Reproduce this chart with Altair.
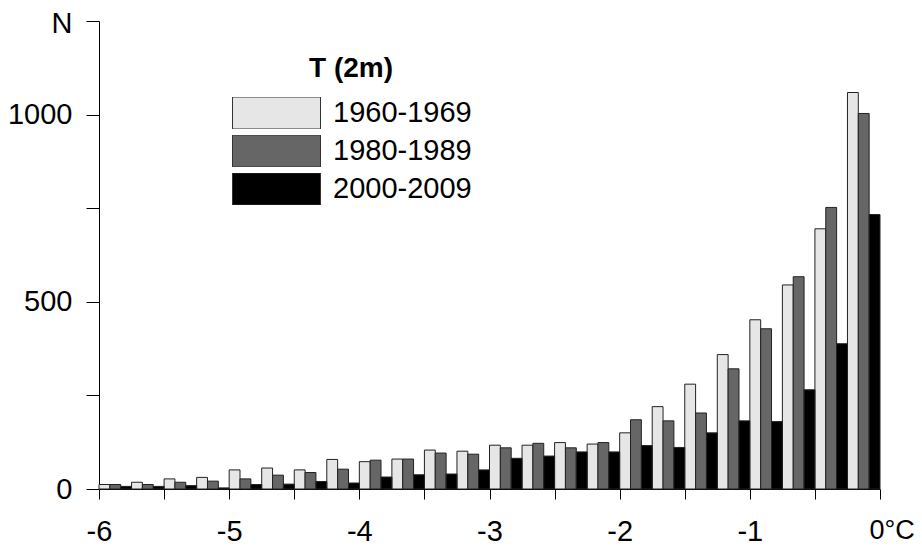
import altair as alt
import pandas as pd

# bin starts (°C), bin width 0.25
bin_starts = [-6.0, -5.75, -5.5, -5.25, -5.0, -4.75, -4.5, -4.25,
              -4.0, -3.75, -3.5, -3.25, -3.0, -2.75, -2.5, -2.25,
              -2.0, -1.75, -1.5, -1.25, -1.0, -0.75, -0.5, -0.25]
series = ["1960-1969", "1980-1989", "2000-2009"]
n_1960 = [12, 18, 27, 31, 51, 56, 51, 79, 73, 80, 104, 101, 117, 117, 124, 120,
          150, 220, 280, 359, 452, 545, 695, 1059]
n_1980 = [12, 12, 18, 21, 27, 37, 44, 53, 77, 80, 96, 93, 110, 122, 110, 124,
          185, 182, 203, 321, 428, 567, 752, 1003]
n_2000 = [7, 7, 9, 3, 12, 13, 20, 16, 32, 38, 40, 51, 82, 88, 99, 99,
          116, 111, 150, 182, 180, 265, 388, 733]
colors = ["#e6e6e6", "#666666", "#000000"]
legend_title = "T (2m)"
bin_width = 0.25

rows = []
for si, (name, vals) in enumerate(zip(series, [n_1960, n_1980, n_2000])):
    for b, v in zip(bin_starts, vals):
        rows.append({"bin": b, "series": name, "idx": si, "n": v})
df = pd.DataFrame(rows)

FONT = "Liberation Sans"
FS = 29
sym_path = "M-1,-0.3636L1,-0.3636L1,0.3636L-1,0.3636Z"

bars = alt.Chart(df).transform_calculate(
    x0=f"datum.bin + datum.idx * {bin_width}/3",
    x1=f"datum.bin + (datum.idx + 1) * {bin_width}/3",
).mark_bar(stroke="#222222", strokeWidth=1).encode(
    x=alt.X("x0:Q",
            scale=alt.Scale(domain=[-6, 0], nice=False, zero=False),
            axis=alt.Axis(
                title=None,
                values=[-6, -5.5, -5, -4.5, -4, -3.5, -3, -2.5, -2, -1.5, -1, -0.5, 0],
                labelExpr="datum.value == 0 ? '0°C' : (datum.value % 1 == 0 ? '' + datum.value : '')",
                labelAlign={"condition": {"test": "datum.value == 0", "value": "left"}, "value": "center"},
                labelOffset={"condition": {"test": "datum.value == 0", "value": -11}, "value": 0},
                labelFontSize={"condition": {"test": "datum.value == 0", "value": 27}, "value": FS},
                tickSize=10,
                labelPadding=18,
                grid=False,
                labelFlush=False,
                labelOverlap=False,
            )),
    x2="x1:Q",
    y=alt.Y("n:Q",
            scale=alt.Scale(domain=[0, 1250], nice=False),
            axis=alt.Axis(
                title=None,
                values=[0, 250, 500, 750, 1000, 1250],
                labelExpr="datum.value == 1250 ? 'N' : (datum.value % 500 == 0 ? '' + datum.value : '')",
                labelOffset={"condition": {"test": "datum.value == 1250", "value": 2}, "value": 0},
                tickSize=13,
                labelPadding=14,
                grid=False,
                labelOverlap=False,
            )),
    y2=alt.datum(0),
    color=alt.Color("series:N",
                    scale=alt.Scale(domain=series, range=colors),
                    legend=alt.Legend(
                        title=None,
                        orient="none",
                        legendX=133,
                        legendY=76,
                        padding=0,
                        clipHeight=32,
                        symbolType=sym_path,
                        symbolSize=7744,
                        symbolStrokeColor="#333333",
                        symbolStrokeWidth=1,
                        symbolOpacity=1,
                        labelFontSize=FS,
                        labelFont=FONT,
                        labelColor="#000000",
                        labelOffset=12,
                        rowPadding=6,
                    )),
)

title_text = alt.Chart(pd.DataFrame({"t": [legend_title]})).mark_text(
    font=FONT, fontSize=28, fontWeight="bold", align="center", baseline="alphabetic",
    color="#000000",
).encode(
    text="t:N",
    x=alt.value(252),
    y=alt.value(56),
)

chart = alt.layer(bars, title_text).properties(
    width=781,
    height=468,
    autosize=alt.AutoSizeParams(type="none"),
    padding={"left": 91, "top": 13, "right": 34, "bottom": 57},
).configure_view(
    stroke=None
).configure_axis(
    labelFont=FONT,
    labelFontSize=FS,
    labelColor="#000000",
    domainColor="#000000",
    tickColor="#000000",
    domainWidth=1,
    tickWidth=1,
)

chart.save("out.html", embed_options={"renderer": "svg", "actions": False})
